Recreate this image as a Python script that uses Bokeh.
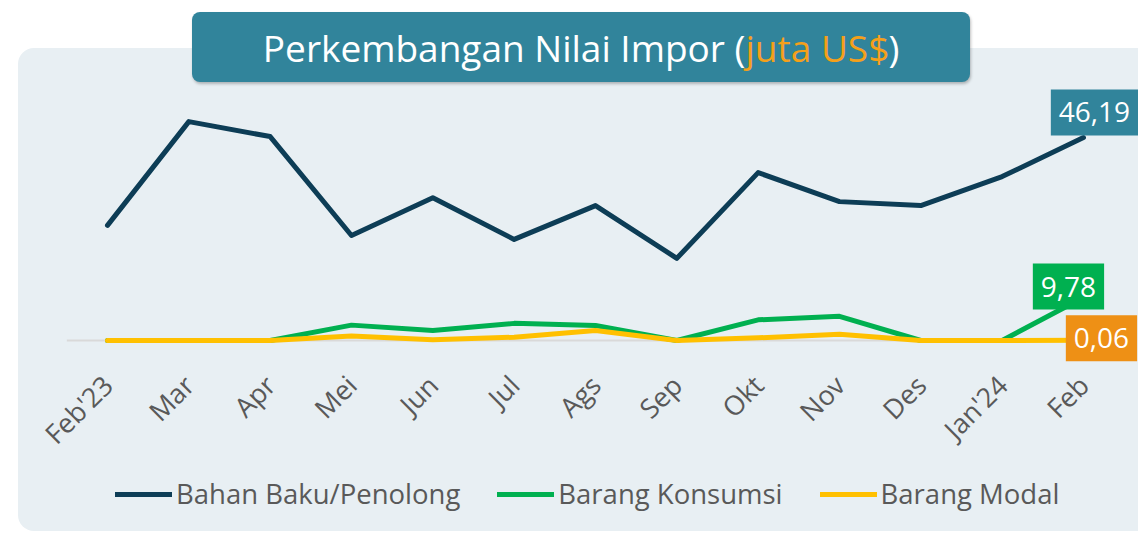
import math
from bokeh.plotting import figure
from bokeh.models import (Range1d, Label, Legend, LegendItem, InlineStyleSheet)
from bokeh.core.properties import value
from bokeh.embed import file_html
from bokeh.resources import INLINE

months = ["Feb'23", "Mar", "Apr", "Mei", "Jun", "Jul", "Ags", "Sep", "Okt", "Nov", "Des", "Jan'24", "Feb"]
bahan_baku = [26.2, 49.8, 46.4, 23.9, 32.5, 23.0, 30.7, 18.7, 38.2, 31.6, 30.7, 37.3, 46.19]
konsumsi = [0.0, 0.0, 0.0, 3.5, 2.3, 3.9, 3.4, 0.0, 4.7, 5.5, 0.0, 0.0, 9.78]
modal = [0.0, 0.0, 0.0, 1.0, 0.2, 0.75, 2.3, 0.0, 0.6, 1.4, 0.0, 0.0, 0.06]
series_names = ["Bahan Baku/Penolong", "Barang Konsumsi", "Barang Modal"]
last_labels = ["46,19", "9,78", "0,06"]

FONT = "Open Sans"
C_BAHAN = "#0D3D56"
C_KONS = "#00B050"
C_MODAL = "#FFC000"
TEAL = "#31849B"
GREY_TXT = "#595959"

W, H = 1138, 533

css = """
:host { position: relative; }
:host::before {
  content: ""; position: absolute; left: 18px; top: 48px; width: 1120px; height: 483px;
  background: #E8EFF3; border-radius: 16px 0 0 16px; z-index: -2;
}
:host::after {
  content: ""; position: absolute; left: 192px; top: 12px; width: 778px; height: 70px;
  background: #31849B; border-radius: 8px; z-index: -1;
  box-shadow: 1px 2px 3px rgba(0,0,0,0.25);
}
"""

xs = list(range(len(months)))

# the plot frame covers the whole canvas; ranges chosen so the category slots sit at the right place
p = figure(width=W, height=H, output_backend="svg", toolbar_location=None,
           x_range=Range1d(-1.3156, 12.6766), y_range=Range1d(-43.91, 77.36),
           x_axis_location=None, y_axis_location=None,
           min_border=0, stylesheets=[InlineStyleSheet(css=css)])
p.border_fill_alpha = 0
p.background_fill_alpha = 0
p.outline_line_color = None
p.grid.visible = False

# zero baseline across the category band
p.segment(x0=[xs[0] - 0.5], y0=[0], x1=[xs[-1] + 0.5], y1=[0], line_color="#D9D9D9", line_width=2)

# month labels (category axis), rotated 45 degrees
p.text(x=xs, y=[-9.0] * len(xs), text=months, angle=math.pi / 4,
       text_align="right", text_baseline="middle", text_font=value(FONT),
       text_font_size="27px", text_color=GREY_TXT)

r1 = p.line(xs, bahan_baku, line_color=C_BAHAN, line_width=5, line_cap="round", line_join="round")
r2 = p.line(xs, konsumsi, line_color=C_KONS, line_width=5, line_cap="round", line_join="round")
r3 = p.line(xs, modal, line_color=C_MODAL, line_width=5, line_cap="round", line_join="round")

legend = Legend(items=[LegendItem(label=series_names[0], renderers=[r1]),
                       LegendItem(label=series_names[1], renderers=[r2]),
                       LegendItem(label=series_names[2], renderers=[r3])],
                orientation="horizontal", location=(115, 21),
                glyph_width=57, glyph_height=20, label_standoff=4, spacing=37,
                padding=0, margin=0, border_line_color=None, background_fill_alpha=0,
                label_text_font=FONT, label_text_font_size="27.5px", label_text_color=GREY_TXT)
p.add_layout(legend)

# title text (screen units measured from the frame's bottom-left)
ty = H - 47
p.add_layout(Label(x=745, y=ty, x_units="screen", y_units="screen", text="Perkembangan Nilai Impor (",
                   text_align="right", text_baseline="middle", text_font=FONT, text_font_size="37px",
                   text_color="white"))
p.add_layout(Label(x=745, y=ty, x_units="screen", y_units="screen", text="juta US$",
                   text_align="left", text_baseline="middle", text_font=FONT, text_font_size="37px",
                   text_color="#F5A01A"))
p.add_layout(Label(x=888, y=ty, x_units="screen", y_units="screen", text=")",
                   text_align="left", text_baseline="middle", text_font=FONT, text_font_size="37px",
                   text_color="white"))

# end-point value labels
for val, txt, col, dx, dy in [(bahan_baku[-1], last_labels[0], TEAL, 11, 25),
                              (konsumsi[-1], last_labels[1], C_KONS, -15, 11),
                              (modal[-1], last_labels[2], "#EE9015", 18, 2)]:
    p.add_layout(Label(x=xs[-1], y=val, x_offset=dx, y_offset=dy, text=txt,
                       text_align="center", text_baseline="middle", text_font=FONT,
                       text_font_size="28px", text_color="white",
                       background_fill_color=col, background_fill_alpha=1,
                       padding=dict(left=8, right=8, top=13, bottom=13)))

open("out.html", "w").write(file_html(p, INLINE))
